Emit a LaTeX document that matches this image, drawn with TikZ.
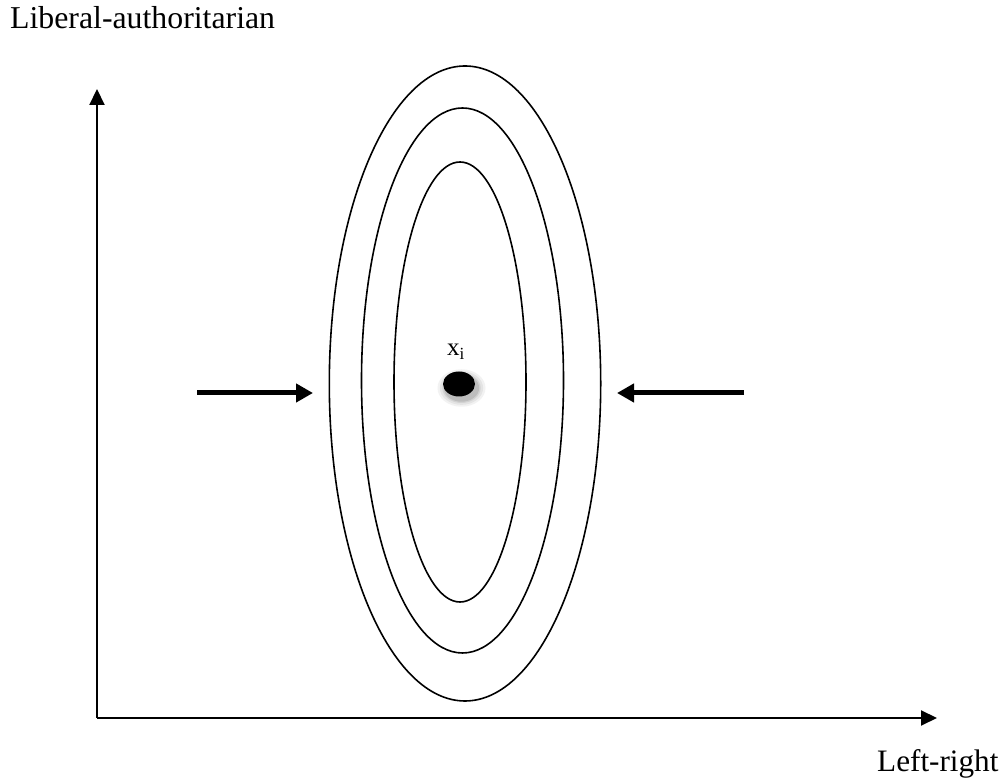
\documentclass[tikz,border=0pt]{standalone}
\usepackage{fontspec}
\setmainfont{Liberation Serif}
\usetikzlibrary{arrows.meta,shapes.geometric}
\tikzset{
  axis/.style={line width=2pt,-{Triangle[length=16pt,width=15pt]}},
  fatarrow/.style={line width=5pt,-{Triangle[length=17pt,width=18pt]}},
  contour/.style={draw,shape=ellipse,inner sep=0pt,line width=1.6pt},
  lbl/.style={inner sep=0pt,anchor=base west}
}
\begin{document}
\begin{tikzpicture}[x=1pt,y=1pt]
\useasboundingbox (0,0) rectangle (1001,781);
% axes
\coordinate (o) at (97,63);
\coordinate (ytip) at (97,692);
\coordinate (xtip) at (937,63);
\draw[axis] (o) -- (ytip);
\draw[axis] (o) -- (xtip);
% contours
\node[contour,minimum width=271.4pt,minimum height=635pt] (outer) at (465,397.5) {};
\node[contour,minimum width=202pt,minimum height=545pt] (middle) at (462.5,400.5) {};
\node[contour,minimum width=132pt,minimum height=440pt] (inner) at (460,399) {};
% dot with soft shadow
\foreach \r/\o in {1.5/0.05,1.35/0.06,1.2/0.08,1.1/0.1}{
  \fill[black,opacity=\o] (461.5,393) ellipse ({16*\r} and {12.5*\r});
}
\node[shape=ellipse,fill=black,inner sep=0pt,minimum width=32pt,minimum height=25pt] (xi) at (459,397) {};
\node[lbl] (xilabel) at (447,425.3) {\fontsize{25}{30}\selectfont x\raisebox{-3.5pt}{\fontsize{17}{20}\selectfont i}};
% pressure arrows
\coordinate (la) at (197,388);
\coordinate (lb) at (313,388);
\coordinate (ra) at (744,388);
\coordinate (rb) at (617,388);
\draw[fatarrow] (la) -- (lb);
\draw[fatarrow] (ra) -- (rb);
% axis labels
\node[lbl] (ylabel) at (10,752.7) {\fontsize{31.8}{38}\selectfont Liberal-authoritarian};
\node[lbl] (xlabel) at (877,9.3) {\fontsize{31.2}{38}\selectfont Left-right};
\end{tikzpicture}
\end{document}
